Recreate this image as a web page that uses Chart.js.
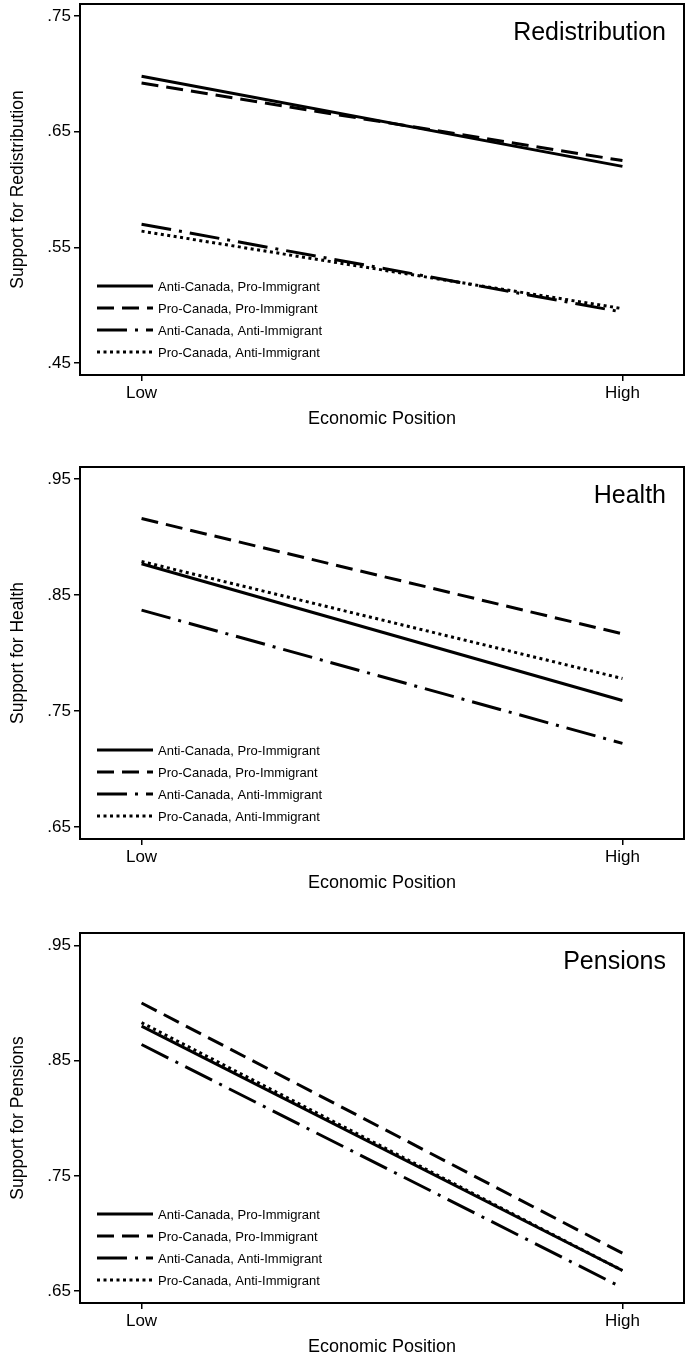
<!DOCTYPE html>
<html>
<head>
<meta charset="utf-8">
<script src="https://cdn.jsdelivr.net/npm/chart.js@4/dist/chart.umd.min.js"></script>
<style>
  body { margin: 0; background: #fff; }
  .panel { position: absolute; left: 0; width: 686px; }
</style>
</head>
<body>
<div class="panel" style="top:0px;height:434px"><canvas id="redistribution"></canvas></div>
<div class="panel" style="top:460px;height:438px"><canvas id="health"></canvas></div>
<div class="panel" style="top:925px;height:437px"><canvas id="pensions"></canvas></div>
<script>
// x categories
const economicLevels = ['Low', 'High'];
const seriesNames = [
  'Anti-Canada, Pro-Immigrant',
  'Pro-Canada, Pro-Immigrant',
  'Anti-Canada, Anti-Immigrant',
  'Pro-Canada, Anti-Immigrant'
];

// Redistribution panel
const redisAntiPro = [0.698, 0.620];
const redisProPro = [0.692, 0.625];
const redisAntiAnti = [0.570, 0.494];
const redisProAnti = [0.564, 0.497];
const redisTicks = [0.45, 0.55, 0.65, 0.75];

// Health panel
const healthAntiPro = [0.877, 0.759];
const healthProPro = [0.916, 0.8165];
const healthAntiAnti = [0.837, 0.722];
const healthProAnti = [0.879, 0.778];
const healthTicks = [0.65, 0.75, 0.85, 0.95];

// Pensions panel
const pensAntiPro = [0.880, 0.668];
const pensProPro = [0.900, 0.683];
const pensAntiAnti = [0.864, 0.653];
const pensProAnti = [0.883, 0.668];
const pensTicks = [0.65, 0.75, 0.85, 0.95];

const dashes = [[], [17, 8], [30, 8, 3, 8], [3, 3.5]];

Chart.defaults.font.family = "'Liberation Sans', Arial, Helvetica, sans-serif";
Chart.defaults.color = '#000';

// frame, panel name and in-plot legend
const framePlugin = {
  id: 'frame',
  afterDraw(chart) {
    const a = chart.chartArea, ctx = chart.ctx;
    ctx.save();
    ctx.strokeStyle = '#000';
    ctx.lineWidth = 2;
    ctx.strokeRect(a.left, a.top, a.right - a.left, a.bottom - a.top);

    ctx.font = "25px 'Liberation Sans', Arial, sans-serif";
    ctx.fillStyle = '#000';
    ctx.textAlign = 'right';
    ctx.textBaseline = 'alphabetic';
    ctx.fillText(chart.options.plugins.frame.title, a.right - 18, a.top + 36);

    ctx.font = "13px 'Liberation Sans', Arial, sans-serif";
    ctx.textAlign = 'left';
    ctx.textBaseline = 'middle';
    chart.data.datasets.forEach(function(ds, i) {
      const y = a.bottom - 89 + 22 * i;
      ctx.lineWidth = 3;
      ctx.setLineDash(ds.borderDash);
      ctx.beginPath();
      ctx.moveTo(a.left + 17, y);
      ctx.lineTo(a.left + 73, y);
      ctx.stroke();
      ctx.setLineDash([]);
      ctx.fillText(ds.label, a.left + 78, y + 1);
    });
    ctx.restore();
  }
};

function makePanel(id, title, yTitle, yMin, yMax, yTicks, padTop, series) {
  const datasets = series.map(function(vals, i) {
    return {
      label: seriesNames[i],
      data: vals.map(function(v, j) { return { x: j, y: v }; }),
      borderColor: '#000',
      borderWidth: 3,
      borderDash: dashes[i],
      borderCapStyle: 'butt',
      pointRadius: 0,
      fill: false,
      tension: 0
    };
  });

  return new Chart(document.getElementById(id), {
    type: 'line',
    data: { datasets: datasets },
    plugins: [framePlugin],
    options: {
      responsive: true,
      maintainAspectRatio: false,
      animation: false,
      layout: { padding: { left: 4, right: 2, top: padTop, bottom: 0 } },
      plugins: {
        legend: { display: false },
        tooltip: { enabled: false },
        frame: { title: title }
      },
      scales: {
        x: {
          type: 'linear',
          min: -0.128,
          max: 1.128,
          afterBuildTicks: function(scale) {
            scale.ticks = economicLevels.map(function(l, j) { return { value: j }; });
          },
          afterFit: function(scale) {
            scale.height = 59;
            scale.paddingLeft = 0;
            scale.paddingRight = 0;
          },
          ticks: {
            font: { size: 17 },
            padding: 2,
            maxRotation: 0,
            callback: function(v) { return economicLevels[v]; }
          },
          grid: { drawOnChartArea: false, drawTicks: true, tickLength: 6, color: '#000', lineWidth: 1.5 },
          border: { display: false },
          title: { display: true, text: 'Economic Position', font: { size: 18 } }
        },
        y: {
          min: yMin,
          max: yMax,
          afterBuildTicks: function(scale) {
            scale.ticks = yTicks.map(function(v) { return { value: v }; });
          },
          afterFit: function(scale) {
            scale.width = 76;
            scale.paddingTop = 0;
            scale.paddingBottom = 0;
          },
          ticks: {
            font: { size: 17 },
            padding: 3,
            callback: function(v) { return v.toFixed(2).replace(/^0/, ''); }
          },
          grid: { drawOnChartArea: false, drawTicks: true, tickLength: 6, color: '#000', lineWidth: 1.5 },
          border: { display: false },
          title: { display: true, text: yTitle, font: { size: 17.5 } }
        }
      }
    }
  });
}

window.addEventListener('load', function() {
  makePanel('redistribution', 'Redistribution', 'Support for Redistribution', 0.4396, 0.7604, redisTicks, 4,
    [redisAntiPro, redisProPro, redisAntiAnti, redisProAnti]);
  makePanel('health', 'Health', 'Support for Health', 0.6395, 0.9605, healthTicks, 7,
    [healthAntiPro, healthProPro, healthAntiAnti, healthProAnti]);
  makePanel('pensions', 'Pensions', 'Support for Pensions', 0.6398, 0.9607, pensTicks, 8,
    [pensAntiPro, pensProPro, pensAntiAnti, pensProAnti]);
});
</script>
</body>
</html>
